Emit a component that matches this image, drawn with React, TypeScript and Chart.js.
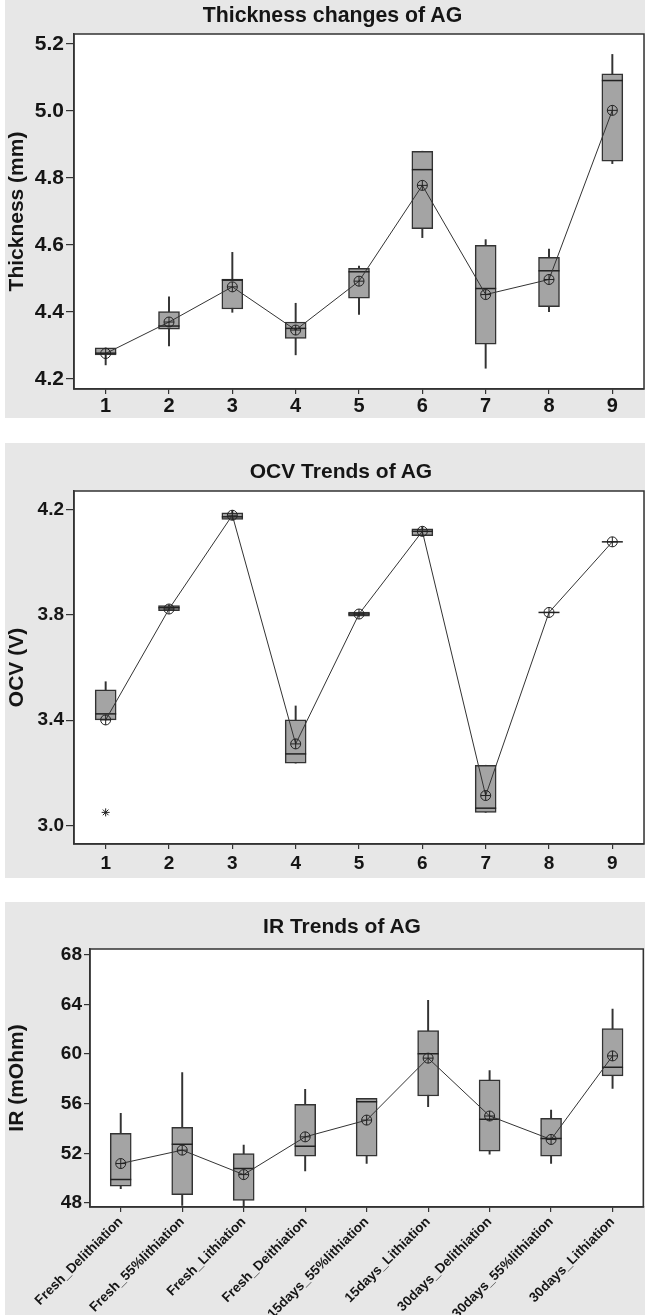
import { useEffect, useRef } from "react";
import { Chart, registerables } from "chart.js";

Chart.register(...registerables);

// ---- categories -------------------------------------------------------------
const stageLabels = ["1", "2", "3", "4", "5", "6", "7", "8", "9"];
const irStageLabels = [
  "Fresh_Delithiation",
  "Fresh_55%lithiation",
  "Fresh_Lithiation",
  "Fresh_Deithiation",
  "15days_55%lithiation",
  "15days_Lithiation",
  "30days_Delithiation",
  "30days_55%lithiation",
  "30days_Lithiation",
];

// ---- thickness (mm) -----------------------------------------------------------
const thicknessMin = [4.242, 4.299, 4.399, 4.272, 4.393, 4.622, 4.232, 4.401, 4.843];
const thicknessQ1 = [4.272, 4.349, 4.409, 4.321, 4.441, 4.649, 4.304, 4.416, 4.85];
const thicknessMedian = [4.277, 4.358, 4.495, 4.351, 4.52, 4.825, 4.47, 4.523, 5.091];
const thicknessQ3 = [4.293, 4.401, 4.498, 4.37, 4.53, 4.88, 4.599, 4.563, 5.111];
const thicknessMax = [4.293, 4.445, 4.578, 4.426, 4.537, 4.88, 4.616, 4.588, 5.169];
const thicknessMean = [4.276, 4.37, 4.475, 4.346, 4.492, 4.778, 4.452, 4.497, 5.002];
const thicknessOutliers: (number | null)[] = [null, null, null, null, null, null, null, null, null];
const thicknessTicks = [4.2, 4.4, 4.6, 4.8, 5.0, 5.2];

// ---- open circuit voltage (V) -------------------------------------------------
const ocvMin = [3.401, 3.816, 4.162, 3.237, 3.795, 4.1, 3.05, 3.809, 4.077];
const ocvQ1 = [3.401, 3.816, 4.162, 3.237, 3.795, 4.1, 3.05, 3.809, 4.077];
const ocvMedian = [3.424, 3.827, 4.172, 3.272, 3.803, 4.117, 3.066, 3.809, 4.077];
const ocvQ3 = [3.515, 3.835, 4.187, 3.401, 3.81, 4.126, 3.229, 3.809, 4.077];
const ocvMax = [3.546, 3.835, 4.195, 3.454, 3.81, 4.132, 3.229, 3.809, 4.077];
const ocvMean = [3.401, 3.822, 4.178, 3.31, 3.803, 4.117, 3.114, 3.809, 4.077];
const ocvOutliers: (number | null)[] = [3.05, null, null, null, null, null, null, null, null];
const ocvTicks = [3.0, 3.4, 3.8, 4.2];

// ---- internal resistance (mOhm) -----------------------------------------------
const irMin = [49.16, 47.81, 47.7, 50.59, 51.18, 55.76, 51.94, 51.18, 57.24];
const irQ1 = [49.35, 48.68, 48.22, 51.77, 51.77, 56.62, 52.18, 51.77, 58.24];
const irMedian = [49.89, 52.74, 50.78, 52.58, 56.16, 60.02, 54.74, 53.2, 58.94];
const irQ3 = [53.61, 54.09, 51.99, 55.95, 56.44, 61.88, 57.92, 54.82, 62.06];
const irMax = [55.22, 58.51, 52.66, 57.16, 56.44, 64.32, 58.67, 55.49, 63.63];
const irMean = [51.18, 52.26, 50.29, 53.33, 54.68, 59.67, 55.01, 53.12, 59.85];
const irOutliers: (number | null)[] = [null, null, null, null, null, null, null, null, null];
const irTicks = [48, 52, 56, 60, 64, 68];

// ---- styling ----------------------------------------------------------------
const FONT = "'Liberation Sans', Arial, Helvetica, sans-serif";
const PANEL_BG = "#e7e7e7";
const INK = "#151515";
const LINE = "#333333";
const BOX_FILL = "#a4a4a4";

type PanelSpec = {
  title: string;
  titleSize: number;
  titleCenterX: number;
  titleTop: number;
  yTitle: string;
  labels: string[];
  min: number[];
  q1: number[];
  median: number[];
  q3: number[];
  max: number[];
  mean: number[];
  outliers: (number | null)[];
  yTicks: number[];
  yMin: number;
  yMax: number;
  decimals: number;
  padTop: number;
  yWidth: number;
  xHeight: number;
  padRight: number;
  yTickLen: number;
  yTickPad: number;
  yTickSize: number;
  xTickLen: number;
  xTickPad: number;
  xTickSize: number;
  xRotation: number;
  top: number;
  height: number;
};

const panelFrame = {
  id: "panelFrame",
  beforeDraw(chart: Chart) {
    const { ctx, chartArea } = chart;
    const { left, top, right, bottom } = chartArea;
    ctx.save();
    ctx.fillStyle = PANEL_BG;
    ctx.fillRect(0, 0, chart.width, chart.height);
    ctx.fillStyle = "#ffffff";
    ctx.fillRect(left, top, right - left, bottom - top);
    ctx.restore();
  },
  afterDraw(chart: Chart) {
    const { ctx, chartArea } = chart;
    const { left, top, right, bottom } = chartArea;
    ctx.save();
    ctx.strokeStyle = LINE;
    ctx.lineWidth = 1.5;
    ctx.strokeRect(left, top, right - left, bottom - top);
    ctx.restore();
  },
};

function buildConfig(p: PanelSpec): any {
  const whiskers = p.min.map((lo, i) => [lo, p.max[i]]);
  const boxes = p.q1.map((lo, i) => [lo, p.q3[i]]);
  return {
    type: "bar",
    data: {
      labels: p.labels,
      datasets: [
        {
          type: "bar",
          data: whiskers,
          grouped: false,
          barThickness: 1.3,
          backgroundColor: LINE,
          borderWidth: 0,
          order: 6,
        },
        {
          type: "bar",
          data: boxes,
          grouped: false,
          barThickness: 21,
          backgroundColor: BOX_FILL,
          borderColor: LINE,
          borderWidth: 1.5,
          borderSkipped: false,
          order: 5,
        },
        {
          type: "line",
          data: p.median,
          showLine: false,
          pointStyle: "line",
          pointRadius: 10.5,
          pointBorderColor: "#222",
          pointBorderWidth: 1.5,
          order: 4,
        },
        {
          type: "line",
          data: p.mean,
          borderColor: LINE,
          borderWidth: 1,
          tension: 0,
          pointStyle: "circle",
          pointRadius: 5,
          pointBackgroundColor: "rgba(0,0,0,0)",
          pointBorderColor: "#222",
          pointBorderWidth: 1,
          order: 3,
        },
        {
          type: "line",
          data: p.mean,
          showLine: false,
          pointStyle: "cross",
          pointRadius: 5,
          pointBorderColor: "#222",
          pointBorderWidth: 1,
          order: 2,
        },
        {
          type: "line",
          data: p.outliers,
          showLine: false,
          pointStyle: "star",
          pointRadius: 4,
          pointBorderColor: "#222",
          pointBorderWidth: 1,
          order: 1,
        },
      ],
    },
    options: {
      responsive: false,
      animation: false,
      events: [],
      layout: {
        autoPadding: false,
        padding: { top: p.padTop, right: p.padRight, bottom: 0, left: 0 },
      },
      plugins: {
        legend: { display: false },
        tooltip: { enabled: false },
        title: { display: false },
      },
      scales: {
        x: {
          type: "category",
          offset: true,
          afterFit: (s: any) => {
            s.height = p.xHeight;
          },
          ticks: {
            autoSkip: false,
            color: INK,
            padding: p.xTickPad,
            maxRotation: p.xRotation,
            minRotation: p.xRotation,
            font: { family: FONT, size: p.xTickSize, weight: "bold" },
          },
          grid: {
            offset: false,
            drawOnChartArea: false,
            drawTicks: true,
            tickLength: p.xTickLen,
            color: LINE,
            lineWidth: 1.2,
          },
          border: { display: true, color: LINE, width: 1.5 },
        },
        y: {
          type: "linear",
          min: p.yMin,
          max: p.yMax,
          afterBuildTicks: (s: any) => {
            s.ticks = p.yTicks.map((value) => ({ value }));
          },
          afterFit: (s: any) => {
            s.width = p.yWidth;
          },
          ticks: {
            color: INK,
            padding: p.yTickPad,
            font: { family: FONT, size: p.yTickSize, weight: "bold" },
            callback: (v: any) => Number(v).toFixed(p.decimals),
          },
          grid: {
            drawOnChartArea: false,
            drawTicks: true,
            tickLength: p.yTickLen,
            color: LINE,
            lineWidth: 1.2,
          },
          border: { display: true, color: LINE, width: 1.5 },
          title: {
            display: true,
            text: p.yTitle,
            color: INK,
            font: { family: FONT, size: 21, weight: "bold" },
            padding: { top: 0, bottom: 0 },
          },
        },
      },
    },
    plugins: [panelFrame],
  };
}

const panels: PanelSpec[] = [
  {
    title: "Thickness changes of AG",
    titleSize: 21.3,
    titleCenterX: 332.5,
    titleTop: 3,
    yTitle: "Thickness (mm)",
    labels: stageLabels,
    min: thicknessMin,
    q1: thicknessQ1,
    median: thicknessMedian,
    q3: thicknessQ3,
    max: thicknessMax,
    mean: thicknessMean,
    outliers: thicknessOutliers,
    yTicks: thicknessTicks,
    yMin: 4.17,
    yMax: 5.23,
    decimals: 1,
    padTop: 34,
    yWidth: 69,
    xHeight: 29,
    padRight: 1,
    yTickLen: 8,
    yTickPad: 2,
    yTickSize: 21,
    xTickLen: 5,
    xTickPad: 0,
    xTickSize: 20,
    xRotation: 0,
    top: 0,
    height: 418,
  },
  {
    title: "OCV Trends of AG",
    titleSize: 21,
    titleCenterX: 341,
    titleTop: 457.7,
    yTitle: "OCV (V)",
    labels: stageLabels,
    min: ocvMin,
    q1: ocvQ1,
    median: ocvMedian,
    q3: ocvQ3,
    max: ocvMax,
    mean: ocvMean,
    outliers: ocvOutliers,
    yTicks: ocvTicks,
    yMin: 2.93,
    yMax: 4.27,
    decimals: 1,
    padTop: 48,
    yWidth: 69,
    xHeight: 34,
    padRight: 1,
    yTickLen: 8,
    yTickPad: 2,
    yTickSize: 19,
    xTickLen: 5,
    xTickPad: 3,
    xTickSize: 19,
    xRotation: 0,
    top: 443,
    height: 435,
  },
  {
    title: "IR Trends of AG",
    titleSize: 21,
    titleCenterX: 342,
    titleTop: 913,
    yTitle: "IR (mOhm)",
    labels: irStageLabels,
    min: irMin,
    q1: irQ1,
    median: irMedian,
    q3: irQ3,
    max: irMax,
    mean: irMean,
    outliers: irOutliers,
    yTicks: irTicks,
    yMin: 47.68,
    yMax: 68.46,
    decimals: 0,
    padTop: 47,
    yWidth: 85,
    xHeight: 108,
    padRight: 1.7,
    yTickLen: 6,
    yTickPad: 2,
    yTickSize: 19,
    xTickLen: 5,
    xTickPad: 2,
    xTickSize: 13.5,
    xRotation: 45,
    top: 902,
    height: 413,
  },
];

function BoxPanel({ spec }: { spec: PanelSpec }) {
  const ref = useRef<HTMLCanvasElement | null>(null);
  useEffect(() => {
    if (!ref.current) return;
    const chart = new Chart(ref.current, buildConfig(spec));
    return () => chart.destroy();
  }, [spec]);
  return (
    <>
      <canvas
        ref={ref}
        width={640}
        height={spec.height}
        style={{ position: "absolute", left: 5, top: spec.top, width: 640, height: spec.height }}
      />
      <div
        style={{
          position: "absolute",
          left: spec.titleCenterX - 200,
          top: spec.titleTop,
          width: 400,
          textAlign: "center",
          whiteSpace: "nowrap",
          fontFamily: FONT,
          fontWeight: "bold",
          fontSize: spec.titleSize,
          lineHeight: "25px",
          color: INK,
        }}
      >
        {spec.title}
      </div>
    </>
  );
}

export default function App() {
  useEffect(() => {
    document.body.style.margin = "0";
    document.body.style.background = "#ffffff";
  }, []);
  return (
    <div style={{ position: "relative", width: 645, height: 1315, background: "#ffffff", overflow: "hidden" }}>
      {panels.map((p) => (
        <BoxPanel key={p.title} spec={p} />
      ))}
    </div>
  );
}
